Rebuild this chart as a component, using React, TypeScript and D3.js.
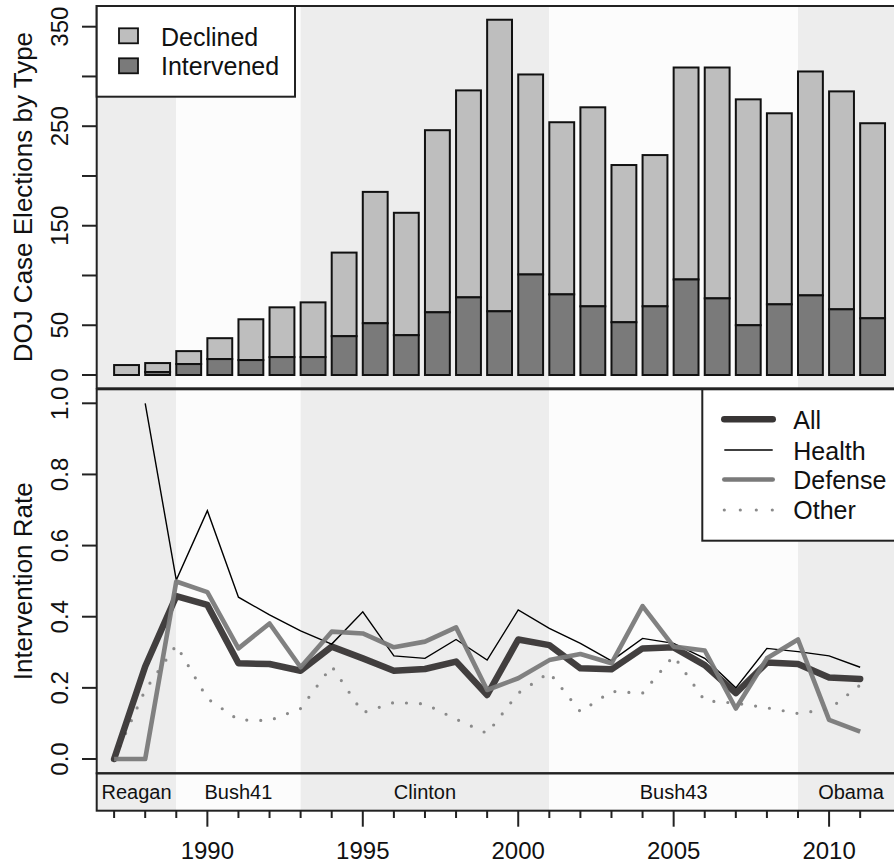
import React, { useEffect, useRef } from "react";
import * as d3 from "d3";

// years 1987..2011
const years = [1987, 1988, 1989, 1990, 1991, 1992, 1993, 1994, 1995, 1996, 1997, 1998, 1999,
  2000, 2001, 2002, 2003, 2004, 2005, 2006, 2007, 2008, 2009, 2010, 2011];

// DOJ case elections (counts)
const intervened = [0, 3, 11, 16, 15, 18, 18, 39, 52, 40, 63, 78, 64, 101, 81, 69, 53, 69, 96, 77, 50, 71, 80, 66, 57];
const declined = [10, 9, 13, 21, 41, 50, 55, 84, 132, 123, 183, 208, 293, 201, 173, 200, 158, 152, 213, 232, 227, 192, 225, 219, 196];

// intervention rates
const rateAll = [0, 0.26, 0.458, 0.433, 0.269, 0.267, 0.248, 0.316, 0.283, 0.248, 0.253, 0.274, 0.18,
  0.336, 0.32, 0.255, 0.252, 0.311, 0.314, 0.264, 0.185, 0.271, 0.267, 0.229, 0.225];
const rateHealth = [null, 1.0, 0.503, 0.698, 0.455, 0.405, 0.36, 0.323, 0.414, 0.29, 0.283, 0.336, 0.278,
  0.419, 0.367, 0.325, 0.276, 0.339, 0.325, 0.283, 0.2, 0.311, 0.302, 0.29, 0.258];
const rateDefense = [0, 0, 0.499, 0.469, 0.311, 0.381, 0.258, 0.358, 0.353, 0.314, 0.33, 0.37, 0.194,
  0.227, 0.278, 0.295, 0.269, 0.43, 0.316, 0.305, 0.142, 0.283, 0.336, 0.11, 0.077];
const rateOther = [0, 0.194, 0.32, 0.17, 0.11, 0.108, 0.142, 0.261, 0.13, 0.159, 0.155, 0.112, 0.072,
  0.185, 0.243, 0.133, 0.19, 0.185, 0.29, 0.164, 0.157, 0.144, 0.128, 0.14, 0.208];

// administrations
const eraNames = ["Reagan", "Bush41", "Clinton", "Bush43", "Obama"];
const eraBreaks = [1989, 1993, 2001, 2009];

const topTicks = [0, 50, 100, 150, 200, 250, 300, 350];
const topTickLabels = [0, 50, 150, 250, 350];
const rateTicks = [0, 0.2, 0.4, 0.6, 0.8, 1.0];
const yearLabels = [1990, 1995, 2000, 2005, 2010];

const FONT = "'Liberation Sans', Arial, Helvetica, sans-serif";

function Chart() {
  const ref = useRef<SVGSVGElement | null>(null);

  useEffect(() => {
    const svg = d3.select(ref.current);
    svg.selectAll("*").remove();

    const left = 96.7, right = 904;
    const topY0 = 6, topY1 = 388.3;
    const botY0 = 389.3, botY1 = 773.3;
    const stripY1 = 810.7;

    const x = d3.scaleLinear().domain([1986.44, 2012.41]).range([left, right]);
    const yTop = d3.scaleLinear().domain([0, 350]).range([375, 26.7]);
    const yRate = d3.scaleLinear().domain([0, 1]).range([759, 403.3]);

    svg.append("rect").attr("width", 894).attr("height", 865).attr("fill", "#fff");

    // era shading
    const starts = [x.domain()[0], ...eraBreaks];
    const ends = [...eraBreaks, x.domain()[1]];
    eraNames.forEach((name, i) => {
      svg.append("rect")
        .attr("x", x(starts[i])).attr("y", topY0)
        .attr("width", x(ends[i]) - x(starts[i])).attr("height", stripY1 - topY0)
        .attr("fill", i % 2 === 0 ? "#ededed" : "#fcfcfc");
      svg.append("text")
        .attr("x", (x(starts[i]) + x(ends[i])) / 2).attr("y", 799.3)
        .attr("text-anchor", "middle")
        .style("font-family", FONT).style("font-size", "20px").attr("fill", "#111")
        .text(name);
    });

    // stacked bars
    const bw = x(1987.8) - x(1987);
    const bars = svg.append("g");
    years.forEach((yr, i) => {
      const tot = intervened[i] + declined[i];
      bars.append("rect")
        .attr("x", x(yr)).attr("y", yTop(tot))
        .attr("width", bw).attr("height", yTop(intervened[i]) - yTop(tot))
        .attr("fill", "#bebebe").attr("stroke", "#111").attr("stroke-width", 2);
      if (intervened[i] > 0) {
        bars.append("rect")
          .attr("x", x(yr)).attr("y", yTop(intervened[i]))
          .attr("width", bw).attr("height", yTop(0) - yTop(intervened[i]))
          .attr("fill", "#7a7a7a").attr("stroke", "#111").attr("stroke-width", 2);
      }
    });

    // rate lines
    const line = d3.line<number | null>()
      .defined(d => d !== null)
      .x((_, i) => x(years[i]))
      .y(d => yRate(d as number));

    svg.append("path").datum(rateOther).attr("d", line)
      .attr("fill", "none").attr("stroke", "#8a8a8a").attr("stroke-width", 3.2)
      .attr("stroke-dasharray", "0 14").attr("stroke-linecap", "round");
    svg.append("path").datum(rateAll).attr("d", line)
      .attr("fill", "none").attr("stroke", "#383535").attr("stroke-width", 6.5)
      .attr("stroke-linejoin", "round").attr("stroke-linecap", "round").attr("opacity", 0.95);
    svg.append("path").datum(rateHealth).attr("d", line)
      .attr("fill", "none").attr("stroke", "#000").attr("stroke-width", 1.4);
    svg.append("path").datum(rateDefense).attr("d", line)
      .attr("fill", "none").attr("stroke", "#7a7a7a").attr("stroke-width", 4.6)
      .attr("stroke-linejoin", "round").attr("opacity", 0.95);

    // panel boxes
    const box = (y0: number, y1: number) =>
      svg.append("rect").attr("x", left).attr("y", y0)
        .attr("width", right - left).attr("height", y1 - y0)
        .attr("fill", "none").attr("stroke", "#222").attr("stroke-width", 2);
    box(topY0, topY1);
    box(botY0, botY1);
    box(botY1, stripY1);

    // top y axis
    topTicks.forEach(t => {
      svg.append("line").attr("x1", 82).attr("x2", left)
        .attr("y1", yTop(t)).attr("y2", yTop(t)).attr("stroke", "#222").attr("stroke-width", 2);
    });
    topTickLabels.forEach(t => {
      svg.append("text")
        .attr("transform", `translate(68,${yTop(t)}) rotate(-90)`)
        .attr("text-anchor", "middle")
        .style("font-family", FONT).style("font-size", "24px").attr("fill", "#111")
        .text(t);
    });

    // bottom y axis
    rateTicks.forEach(t => {
      svg.append("line").attr("x1", 82).attr("x2", left)
        .attr("y1", yRate(t)).attr("y2", yRate(t)).attr("stroke", "#222").attr("stroke-width", 2);
      svg.append("text")
        .attr("transform", `translate(68,${yRate(t)}) rotate(-90)`)
        .attr("text-anchor", "middle")
        .style("font-family", FONT).style("font-size", "24px").attr("fill", "#111")
        .text(d3.format(".1f")(t));
    });

    // axis titles
    svg.append("text")
      .attr("transform", `translate(32,${(topY0 + topY1) / 2}) rotate(-90)`)
      .attr("text-anchor", "middle")
      .style("font-family", FONT).style("font-size", "26px").attr("fill", "#111")
      .text("DOJ Case Elections by Type");
    svg.append("text")
      .attr("transform", `translate(32,${(botY0 + botY1) / 2}) rotate(-90)`)
      .attr("text-anchor", "middle")
      .style("font-family", FONT).style("font-size", "26px").attr("fill", "#111")
      .text("Intervention Rate");

    // x axis
    years.forEach(yr => {
      const major = yearLabels.includes(yr);
      svg.append("line").attr("x1", x(yr)).attr("x2", x(yr))
        .attr("y1", stripY1).attr("y2", major ? 826.7 : 818)
        .attr("stroke", "#222").attr("stroke-width", 2);
    });
    yearLabels.forEach(yr => {
      svg.append("text").attr("x", x(yr)).attr("y", 859)
        .attr("text-anchor", "middle")
        .style("font-family", FONT).style("font-size", "24px").attr("fill", "#111")
        .text(yr);
    });

    // top legend
    const lg = svg.append("g");
    lg.append("rect").attr("x", left).attr("y", topY0).attr("width", 295 - left).attr("height", 96.7 - topY0)
      .attr("fill", "#fff").attr("stroke", "#222").attr("stroke-width", 2);
    [["Declined", "#bebebe", 28.3, 45.7], ["Intervened", "#7a7a7a", 58.3, 75]].forEach(([lab, col, sy, ty]) => {
      lg.append("rect").attr("x", 119).attr("y", sy as number).attr("width", 19).attr("height", 15)
        .attr("fill", col as string).attr("stroke", "#111").attr("stroke-width", 1.8);
      lg.append("text").attr("x", 161).attr("y", ty as number)
        .style("font-family", FONT).style("font-size", "25px").attr("fill", "#111")
        .text(lab as string);
    });

    // bottom legend
    const lg2 = svg.append("g");
    lg2.append("rect").attr("x", 702.3).attr("y", botY0).attr("width", right - 702.3).attr("height", 540.7 - botY0)
      .attr("fill", "#fff").attr("stroke", "#222").attr("stroke-width", 2);
    const items = [
      { lab: "All", col: "#383535", w: 6.5, dash: null, y: 419.3, ty: 429.3 },
      { lab: "Health", col: "#000", w: 1.4, dash: null, y: 450, ty: 460 },
      { lab: "Defense", col: "#7a7a7a", w: 4.6, dash: null, y: 479.5, ty: 489.3 },
      { lab: "Other", col: "#8a8a8a", w: 3.2, dash: "0 16", y: 510, ty: 519.3 },
    ];
    items.forEach(it => {
      const l = lg2.append("line").attr("x1", 724.3).attr("x2", 772.7)
        .attr("y1", it.y).attr("y2", it.y)
        .attr("stroke", it.col).attr("stroke-width", it.w);
      if (it.dash) l.attr("stroke-dasharray", it.dash).attr("stroke-linecap", "round");
      else if (it.w > 2) l.attr("stroke-linecap", "round");
      lg2.append("text").attr("x", 793.3).attr("y", it.ty)
        .style("font-family", FONT).style("font-size", "25px").attr("fill", "#111")
        .text(it.lab);
    });
  }, []);

  return (
    <svg ref={ref} width={894} height={865}
      style={{ position: "absolute", left: 0, top: 0, display: "block" }} />
  );
}

export default function App() {
  return <Chart />;
}
